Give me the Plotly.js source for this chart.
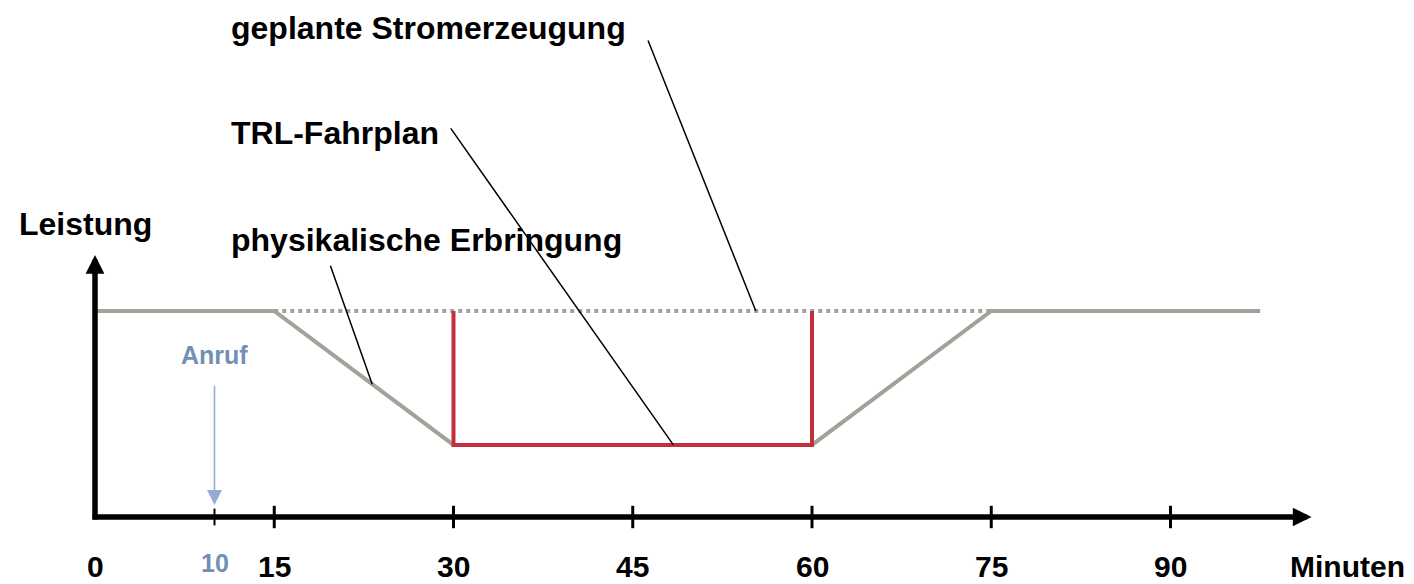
<!DOCTYPE html>
<html>
<head>
<meta charset="utf-8">
<script src="https://cdn.plot.ly/plotly-3.0.1.min.js"></script>
<style>html,body{margin:0;padding:0;background:#fff;}#chart{width:1414px;height:584px;}</style>
</head>
<body>
<div id="chart"></div>
<script>
// ---- data ----
const physMinutes   = [0, 15, 30, 60, 75, 97.5];
const physPower     = [100, 100, 35, 35, 100, 100];
const plannedMinutes = [15, 75];
const plannedPower   = [100, 100];
const trlMinutes    = [30, 30, 60, 60];
const trlPower      = [100, 35, 35, 100];
const tickMinutes   = [0, 15, 30, 45, 60, 75, 90];
const tickLabels    = ['0', '15', '30', '45', '60', '75', '90'];
const majorTicks    = [15, 30, 45, 60, 75, 90];
const callMinute    = 10;
const callLabel     = 'Anruf';
const labelPlanned  = 'geplante Stromerzeugung';
const labelTRL      = 'TRL-Fahrplan';
const labelPhys     = 'physikalische Erbringung';
const yTitle        = 'Leistung';
const xTitle        = 'Minuten';

// ---- styling ----
const FONT = 'Arial, "Liberation Sans", sans-serif';
const GREY = '#a0a398';
const RED = '#c3303b';
const BLUE = '#93acd0';
const BLUE_TXT = '#7190b3';
const W = 1414, H = 584;
const px = v => v / W;          // paper x from pixel
const py = v => 1 - v / H;      // paper y from pixel

const traces = [
  {x: plannedMinutes, y: plannedPower, mode: 'lines', line: {color: GREY, width: 4, dash: 'dot'}, hoverinfo: 'skip'},
  {x: physMinutes, y: physPower, mode: 'lines', line: {color: GREY, width: 4}, hoverinfo: 'skip'},
  {x: trlMinutes, y: trlPower, mode: 'lines', line: {color: RED, width: 4}, hoverinfo: 'skip'},
  {x: majorTicks, y: majorTicks.map(() => 0), mode: 'markers',
   marker: {symbol: 'line-ns', size: 16, color: '#000', line: {color: '#000', width: 3}}, hoverinfo: 'skip'},
  {x: [callMinute], y: [0], mode: 'markers',
   marker: {symbol: 'line-ns', size: 12, color: '#000', line: {color: '#000', width: 2}}, hoverinfo: 'skip'}
];

const ann = [];
// axes arrows
ann.push({x: 101.8, y: 0, ax: -0.25, ay: 0, axref: 'x', ayref: 'y', xref: 'x', yref: 'y', text: '',
  showarrow: true, arrowhead: 2, arrowsize: 0.68, arrowwidth: 5.5, arrowcolor: '#000', borderpad: 0});
ann.push({x: 0, y: 127.2, ax: 0, ay: -1.4, axref: 'x', ayref: 'y', xref: 'x', yref: 'y', text: '',
  showarrow: true, arrowhead: 2, arrowsize: 0.68, arrowwidth: 5.5, arrowcolor: '#000', borderpad: 0});
// call arrow
ann.push({x: callMinute, y: 5.8, ax: callMinute, ay: 64, axref: 'x', ayref: 'y', xref: 'x', yref: 'y', text: '',
  showarrow: true, arrowhead: 2, arrowsize: 2, arrowwidth: 1.5, arrowcolor: BLUE, borderpad: 0});
ann.push({x: callMinute, y: py(355), xref: 'x', yref: 'paper', text: '<b>' + callLabel + '</b>', showarrow: false,
  font: {family: FONT, size: 25, color: BLUE_TXT}, xanchor: 'center', yanchor: 'middle'});
// leader lines
ann.push({x: 55.3, y: 100, xref: 'x', yref: 'y', ax: -108, ay: -271, text: '', showarrow: true,
  arrowhead: 0, arrowwidth: 1.5, arrowcolor: '#000', borderpad: 0});
ann.push({x: 48.4, y: 35, xref: 'x', yref: 'y', ax: -223, ay: -317, text: '', showarrow: true,
  arrowhead: 0, arrowwidth: 1.5, arrowcolor: '#000', borderpad: 0});
ann.push({x: 23.2, y: 64.5, xref: 'x', yref: 'y', ax: -42, ay: -119, text: '', showarrow: true,
  arrowhead: 0, arrowwidth: 1.5, arrowcolor: '#000', borderpad: 0});
// labels
const big = {family: FONT, size: 32, color: '#000'};
ann.push({x: px(229), y: py(28), xref: 'paper', yref: 'paper', text: '<b>' + labelPlanned + '</b>', showarrow: false, font: big, xanchor: 'left', yanchor: 'middle'});
ann.push({x: px(229), y: py(133), xref: 'paper', yref: 'paper', text: '<b>' + labelTRL + '</b>', showarrow: false, font: big, xanchor: 'left', yanchor: 'middle'});
ann.push({x: px(229), y: py(240), xref: 'paper', yref: 'paper', text: '<b>' + labelPhys + '</b>', showarrow: false, font: big, xanchor: 'left', yanchor: 'middle'});
ann.push({x: px(17), y: py(224), xref: 'paper', yref: 'paper', text: '<b>' + yTitle + '</b>', showarrow: false, font: big, xanchor: 'left', yanchor: 'middle'});
ann.push({x: px(1407), y: py(566), xref: 'paper', yref: 'paper', text: '<b>' + xTitle + '</b>', showarrow: false, font: {family: FONT, size: 30, color: '#000'}, xanchor: 'right', yanchor: 'middle'});
// tick labels
tickMinutes.forEach((m, i) => {
  ann.push({x: m, y: py(566), xref: 'x', yref: 'paper', text: '<b>' + tickLabels[i] + '</b>', showarrow: false,
    font: {family: FONT, size: 30, color: '#000'}, xanchor: 'center', yanchor: 'middle'});
});
ann.push({x: callMinute, y: py(563), xref: 'x', yref: 'paper', text: '<b>' + callMinute + '</b>', showarrow: false,
  font: {family: FONT, size: 25, color: BLUE_TXT}, xanchor: 'center', yanchor: 'middle'});

const layout = {
  width: W, height: H,
  margin: {l: 0, r: 0, t: 0, b: 0},
  paper_bgcolor: '#fff', plot_bgcolor: '#fff',
  showlegend: false,
  xaxis: {range: [-95 / 11.95, (W - 95) / 11.95], visible: false, fixedrange: true},
  yaxis: {range: [-(H - 517) / 2.06, 517 / 2.06], visible: false, fixedrange: true},
  annotations: ann
};
Plotly.newPlot('chart', traces, layout, {staticPlot: true});
</script>
</body>
</html>
